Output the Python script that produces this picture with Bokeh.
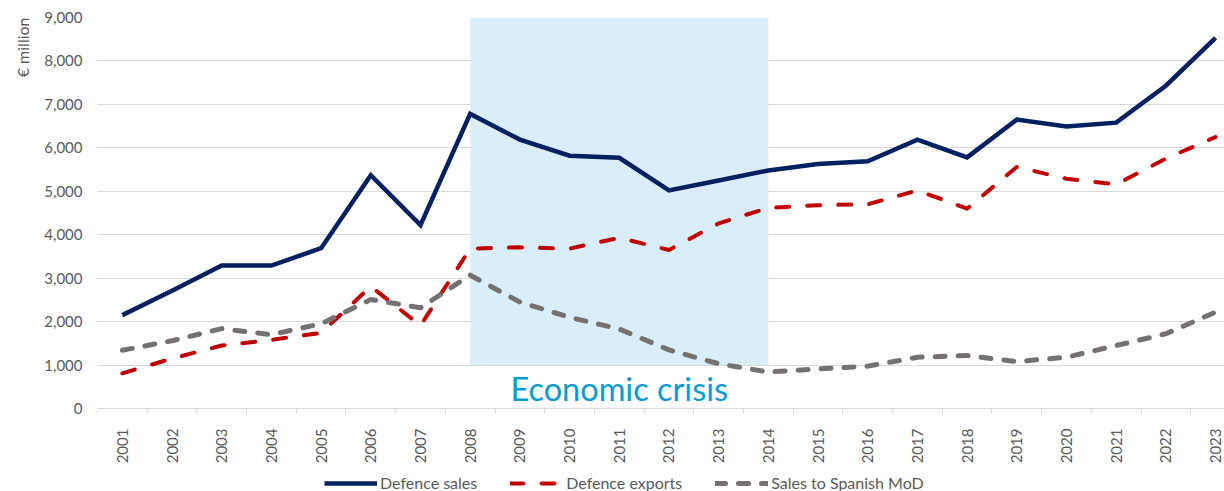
from bokeh.plotting import figure
from bokeh.models import (ColumnDataSource, FixedTicker, NumeralTickFormatter, Range1d,
                          Legend, LegendItem, Title)
from bokeh.embed import file_html
from bokeh.resources import INLINE
from bokeh.core.properties import value
import math

years = list(range(2001, 2024))
defence_sales = [2150, 2710, 3290, 3290, 3690, 5370, 4220, 6780, 6190, 5820, 5770, 5020,
                 5250, 5480, 5630, 5690, 6190, 5780, 6650, 6490, 6580, 7430, 8530]
defence_exports = [810, 1150, 1450, 1580, 1740, 2810, 1910, 3680, 3710, 3680, 3930, 3650,
                   4260, 4620, 4680, 4700, 5020, 4600, 5560, 5290, 5160, 5750, 6250]
sales_mod = [1340, 1560, 1840, 1700, 1950, 2510, 2320, 3070, 2450, 2100, 1830, 1350,
             1030, 840, 910, 975, 1180, 1220, 1080, 1180, 1450, 1720, 2220]
crisis_start = [2008]
crisis_end = [2014]
crisis_bottom = [1000]
crisis_top = [9000]
crisis_label = "Economic crisis"
y_ticks = [0, 1000, 2000, 3000, 4000, 5000, 6000, 7000, 8000, 9000]

FONT = "Lato"
GRAY_TXT = "#595959"

# frame spans y=17..491; value 0 sits at y=408 (room below for labels and legend)
p = figure(width=1224, height=491, output_backend="svg", toolbar_location=None,
           x_range=Range1d(2000.5, 2023.18), y_range=Range1d(-1910, 9000),
           min_border_left=97, min_border_right=0, min_border_top=17, min_border_bottom=0)
p.outline_line_color = None
p.background_fill_color = "white"

# crisis shading
p.quad(left=crisis_start, right=crisis_end, bottom=crisis_bottom, top=crisis_top,
       fill_color="#d9eef9", line_color=None)

src = ColumnDataSource(dict(x=years, s=defence_sales, e=defence_exports, m=sales_mod))
r_sales = p.line("x", "s", source=src, line_color="#002060", line_width=4.5,
                 line_join="miter")
r_exp = p.line("x", "e", source=src, line_color="#c00000", line_width=4,
               line_dash="13 18", line_cap="round", line_join="round")
r_mod = p.line("x", "m", source=src, line_color="#767171", line_width=5,
               line_dash="10 13", line_cap="round", line_join="round")

p.text(x=[2011], y=[450], text=[crisis_label], text_font=value(FONT),
       text_font_size="32.5px", text_color="#0a9ad2", text_align="center",
       text_baseline="middle")

# axes
xa = p.xaxis[0]
xa.fixed_location = 0
xa.ticker = FixedTicker(ticks=years, minor_ticks=[y - 0.5 for y in years] + [2023.5])
xa.major_label_overrides = {y: str(y) for y in years}
xa.major_label_orientation = math.pi / 2
xa.major_tick_line_color = None
xa.major_tick_out = 0
xa.major_tick_in = 0
xa.minor_tick_line_color = "#d9d9d9"
xa.minor_tick_out = 5
xa.minor_tick_in = 0
xa.axis_line_color = "#d9d9d9"
xa.major_label_text_font = FONT
xa.major_label_text_font_size = "15px"
xa.major_label_text_color = GRAY_TXT
xa.major_label_standoff = 15

ya = p.yaxis[0]
ya.ticker = FixedTicker(ticks=y_ticks)
ya.formatter = NumeralTickFormatter(format="0,0")
ya.axis_line_color = None
ya.major_tick_line_color = None
ya.minor_tick_line_color = None
ya.major_tick_out = 0
ya.major_tick_in = 0
ya.major_label_text_font = FONT
ya.major_label_text_font_size = "15px"
ya.major_label_text_color = GRAY_TXT
ya.major_label_standoff = 15

p.xgrid.grid_line_color = None
p.ygrid.grid_line_color = "#d9d9d9"
p.ygrid.grid_line_width = 1

t = Title(text="€ million", align="right", text_font=FONT, text_font_size="16px",
          text_color=GRAY_TXT, text_font_style="normal", standoff=19)
p.add_layout(t, "left")

legend = Legend(items=[LegendItem(label="Defence sales", renderers=[r_sales]),
                       LegendItem(label="Defence exports", renderers=[r_exp]),
                       LegendItem(label="Sales to Spanish MoD", renderers=[r_mod])],
                orientation="horizontal", location=(227, -1),
                border_line_color=None, background_fill_alpha=0,
                label_text_font=FONT, label_text_font_size="16px",
                label_text_color=GRAY_TXT, glyph_width=53, glyph_height=16,
                label_standoff=3, spacing=33, padding=0, margin=0)
p.add_layout(legend, "center")

open("out.html", "w").write(file_html(p, INLINE))
